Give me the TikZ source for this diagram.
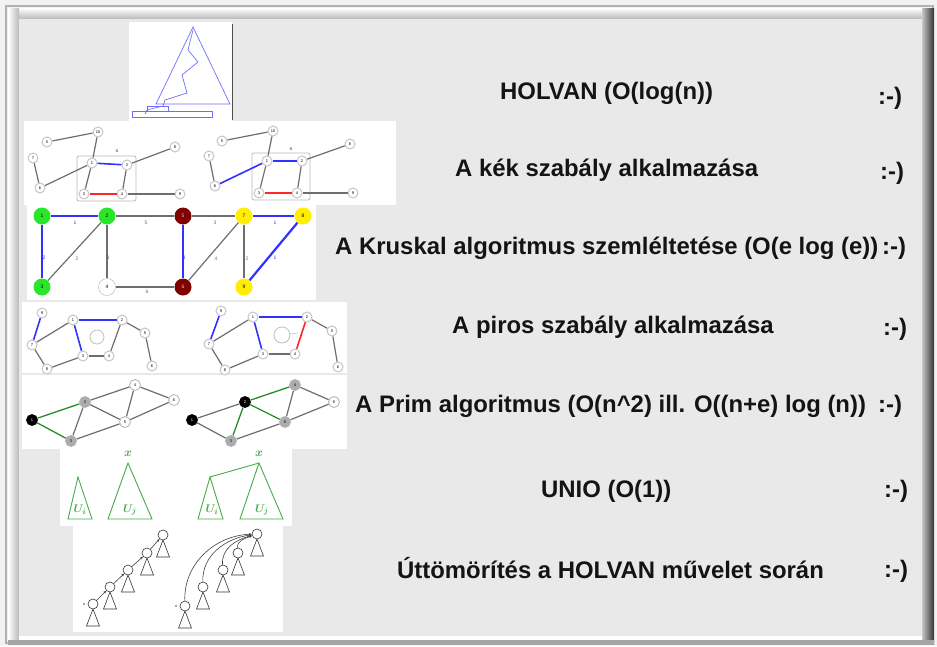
\documentclass[tikz,border=0pt]{standalone}
\usepackage{fontspec}
\setmainfont{Liberation Sans}
\usepackage{amsmath,bm}
\usetikzlibrary{arrows.meta}
\definecolor{panel}{RGB}{233,233,233}
\definecolor{cbg}{RGB}{242,242,242}
\definecolor{txt}{RGB}{20,20,20}
\definecolor{kgreen}{RGB}{40,230,40}
\definecolor{kyellow}{RGB}{255,238,0}
\definecolor{kred}{RGB}{128,0,0}
\definecolor{eblue}{RGB}{50,50,255}
\definecolor{egray}{RGB}{110,110,110}
\definecolor{pgreen}{RGB}{40,140,40}
\definecolor{ugreen}{RGB}{70,170,70}
\definecolor{hblue}{RGB}{110,110,255}
\begin{document}
\begin{tikzpicture}[x=1pt,y=-1pt,
  lbl/.style={anchor=west,text=txt,font=\fontsize{23.9}{26}\bfseries\selectfont,inner sep=0pt},
  thumb/.style={fill=white},
  gn/.style={circle,draw=gray!45,fill=white,line width=1pt,inner sep=0pt,minimum size=10pt,font=\fontsize{4}{4}\selectfont},
  ge/.style={draw=egray,line width=1.2pt},
  be/.style={draw=eblue,line width=1.6pt},
  re/.style={draw=red!85,line width=1.6pt},
  ge2/.style={draw=pgreen,line width=1.3pt},
  kn/.style={circle,inner sep=0pt,minimum size=17pt,font=\fontsize{5}{5}\selectfont},
  kl/.style={font=\fontsize{5}{5}\selectfont,text=egray},
  kbl/.style={font=\fontsize{5}{5}\selectfont,text=eblue},
  pn/.style={circle,draw=gray!60,line width=0.8pt,inner sep=0pt,minimum size=11pt,font=\fontsize{4}{4}\selectfont},
  cn/.style={circle,draw=black!80,fill=white,line width=0.6pt,inner sep=0pt,minimum size=10pt},
  arr/.style={draw=black!75,line width=0.6pt,-{Stealth[length=3pt,width=2.5pt]}},
  subtree/.pic={\draw[black!80,line width=0.6pt] (0,5) -- (-6.5,22) -- (6.5,22) -- cycle;},
  ut/.style={draw=ugreen,line width=0.9pt},
  ul/.style={text=ugreen,font=\fontsize{11}{11}\selectfont}
]
% ---------- frame ----------
\fill[cbg] (0,0) rectangle (937,646);
\draw[gray!60,line width=1.5pt] (6,6) rectangle (933,643);
\shade[top color=white,bottom color=gray!55] (8,8) rectangle (930,19);
\shade[left color=white,right color=gray!55] (8,8) rectangle (19,640);
\shade[left color=gray!45,right color=black!80] (922,8) rectangle (934,644);
\fill[gray!70] (8,640) rectangle (934,645);
\fill[white] (19,636) rectangle (922,640);
\fill[panel] (19,19) rectangle (922,636);

% ---------- thumbnails backgrounds ----------
\fill[thumb] (129,22) rectangle (232,121);
\draw[black!70,line width=0.8pt] (232,24) -- (232,120);
\fill[thumb] (24,121) rectangle (396,205);
\fill[thumb] (27,203) rectangle (316,300);
\fill[thumb] (22,302) rectangle (347,373);
\fill[thumb] (22,375) rectangle (347,449);
\fill[thumb] (60,449) rectangle (292,526);
\fill[thumb] (73,523) rectangle (283,632);

% ---------- HOLVAN thumbnail ----------
\draw[hblue,line width=0.7pt] (193,27) -- (156,104) -- (230,104) -- cycle;
\draw[hblue,line width=0.7pt] (193,30) -- (188,50) -- (198,62) -- (182,75) -- (187,93) -- (165,100) -- (163,106) -- (147,110) -- (145,114);
\draw[hblue,line width=0.7pt] (132,111) rectangle (212,117);
\draw[hblue,line width=0.7pt] (147,106) rectangle (168,111);

% ---------- blue rule, left ----------
\draw[gray!55,line width=0.8pt,rounded corners=2pt] (77,156) rectangle (136,201);
\node[font=\fontsize{4}{4}\selectfont] at (117,151) {X};
\node[gn] (a10) at (98,132) {10};
\node[gn] (a5) at (47,142) {5};
\node[gn] (a7) at (33,158) {7};
\node[gn] (a6) at (40,188) {6};
\node[gn] (a1) at (92,163) {1};
\node[gn] (a2) at (127,165) {2};
\node[gn] (a8) at (175,147) {8};
\node[gn] (a3) at (84,194) {3};
\node[gn] (a4) at (122,194) {4};
\node[gn] (a9) at (180,194) {9};
\draw[ge] (a5) -- (a10);
\draw[ge] (a10) -- (a1);
\draw[ge] (a7) -- (a6);
\draw[ge] (a6) -- (a1);
\draw[be] (a1) -- (a2);
\draw[ge] (a2) -- (a8);
\draw[ge] (a1) -- (a3);
\draw[ge] (a2) -- (a4);
\draw[re] (a3) -- (a4);
\draw[ge] (a4) -- (a9);

% ---------- blue rule, right ----------
\draw[gray!55,line width=0.8pt,rounded corners=2pt] (252,153) rectangle (310,200);
\node[font=\fontsize{4}{4}\selectfont] at (291,149) {X};
\node[gn] (b10) at (273,131) {10};
\node[gn] (b5) at (222,141) {5};
\node[gn] (b7) at (209,156) {7};
\node[gn] (b6) at (215,186) {6};
\node[gn] (b1) at (267,161) {1};
\node[gn] (b2) at (302,161) {2};
\node[gn] (b8) at (350,144) {8};
\node[gn] (b3) at (259,193) {3};
\node[gn] (b4) at (297,193) {4};
\node[gn] (b9) at (353,193) {9};
\draw[ge] (b5) -- (b10);
\draw[ge] (b10) -- (b1);
\draw[ge] (b7) -- (b6);
\draw[be] (b6) -- (b1);
\draw[be] (b1) -- (b2);
\draw[ge] (b2) -- (b8);
\draw[ge] (b1) -- (b3);
\draw[ge] (b2) -- (b4);
\draw[re] (b3) -- (b4);
\draw[ge] (b4) -- (b9);

% ---------- Kruskal ----------
\node[kn,fill=kgreen] (k1) at (42,216) {1};
\node[kn,fill=kgreen] (k2) at (107,216) {2};
\node[kn,fill=kred,text=white!80!black] (k5) at (183,216) {5};
\node[kn,fill=kyellow] (k7) at (244,216) {7};
\node[kn,fill=kyellow] (k8) at (303,216) {8};
\node[kn,fill=kgreen] (k3) at (42,287) {3};
\node[kn,fill=white,draw=gray!60] (k4) at (107,287) {4};
\node[kn,fill=kred,text=white!80!black] (k6) at (183,287) {6};
\node[kn,fill=kyellow] (k9) at (244,287) {9};
\draw[be,line width=1.4pt] (k1) -- (k2);
\draw[ge] (k2) -- (k5);
\draw[ge] (k5) -- (k7);
\draw[be,line width=1.4pt] (k7) -- (k8);
\draw[be,line width=1.4pt] (k1) -- (k3);
\draw[ge] (k3) -- (k2);
\draw[ge] (k2) -- (k4);
\draw[ge] (k4) -- (k6);
\draw[be,line width=2.2pt] (k5) -- (k6);
\draw[ge] (k6) -- (k7);
\draw[ge] (k7) -- (k9);
\draw[be,line width=2.2pt] (k8) -- (k9);
\node[kbl] at (75,223) {1};
\node[kl] at (146,223) {5};
\node[kl] at (215,223) {3};
\node[kbl] at (275,223) {1};
\node[kbl] at (44,258) {2};
\node[kl] at (77,259) {2};
\node[kl] at (108,258) {3};
\node[kl] at (147,292) {6};
\node[kbl] at (184,258) {3};
\node[kl] at (216,259) {4};
\node[kl] at (247,259) {2};
\node[kbl] at (275,258) {1};

% ---------- red rule, left ----------
\draw[gray!50,line width=0.8pt] (97,337) circle (7);
\node[gn] (r9) at (42,313) {9};
\node[gn] (r7) at (32,345) {7};
\node[gn] (r1) at (73,320) {1};
\node[gn] (r2) at (122,320) {2};
\node[gn] (r5) at (145,333) {5};
\node[gn] (r3) at (83,356) {3};
\node[gn] (r4) at (109,356) {4};
\node[gn] (r8) at (47,369) {8};
\node[gn] (r6) at (152,366) {6};
\draw[be] (r9) -- (r7);
\draw[ge] (r7) -- (r1);
\draw[ge] (r7) -- (r8);
\draw[be] (r1) -- (r2);
\draw[be] (r1) -- (r3);
\draw[ge] (r2) -- (r5);
\draw[ge] (r2) -- (r4);
\draw[ge] (r3) -- (r4);
\draw[ge] (r8) -- (r3);
\draw[ge] (r5) -- (r6);

% ---------- red rule, right ----------
\draw[gray!50,line width=0.8pt] (282,335) circle (8);
\draw[gray!50,line width=0.6pt] (290,334) -- (298,333);
\node[gn] (s9) at (221,311) {9};
\node[gn] (s7) at (209,344) {7};
\node[gn] (s1) at (253,317) {1};
\node[gn] (s2) at (307,317) {2};
\node[gn] (s5) at (332,331) {5};
\node[gn] (s3) at (263,354) {3};
\node[gn] (s4) at (295,354) {4};
\node[gn] (s8) at (225,370) {8};
\node[gn] (s6) at (338,367) {6};
\draw[be] (s9) -- (s7);
\draw[ge] (s7) -- (s1);
\draw[ge] (s7) -- (s8);
\draw[be] (s1) -- (s2);
\draw[be] (s1) -- (s3);
\draw[ge] (s2) -- (s5);
\draw[re] (s2) -- (s4);
\draw[ge] (s3) -- (s4);
\draw[ge] (s8) -- (s3);
\draw[ge] (s5) -- (s6);

% ---------- Prim, left ----------
\node[pn,fill=black,draw=black,text=white] (p1) at (32,420) {1};
\node[pn,fill=gray!65] (p2) at (85,402) {2};
\node[pn,fill=gray!65] (p3) at (71,441) {3};
\node[pn,fill=white] (p4) at (135,385) {4};
\node[pn,fill=white] (p5) at (125,422) {5};
\node[pn,fill=white] (p6) at (174,400) {6};
\draw[ge2] (p1) -- (p2);
\draw[ge2] (p1) -- (p3);
\draw[ge] (p2) -- (p3);
\draw[ge] (p2) -- (p4);
\draw[ge] (p2) -- (p5);
\draw[ge] (p4) -- (p5);
\draw[ge] (p4) -- (p6);
\draw[ge] (p3) -- (p5);
\draw[ge] (p5) -- (p6);

% ---------- Prim, right ----------
\node[pn,fill=black,draw=black,text=white] (m1) at (192,420) {1};
\node[pn,fill=black,draw=black,text=white] (m2) at (245,402) {2};
\node[pn,fill=gray!65] (m3) at (231,441) {3};
\node[pn,fill=gray!65] (m4) at (295,385) {4};
\node[pn,fill=gray!65] (m5) at (285,422) {5};
\node[pn,fill=white] (m6) at (334,402) {6};
\draw[ge] (m1) -- (m2);
\draw[ge] (m1) -- (m3);
\draw[ge2] (m2) -- (m3);
\draw[ge2] (m2) -- (m4);
\draw[ge2] (m2) -- (m5);
\draw[ge] (m4) -- (m5);
\draw[ge] (m4) -- (m6);
\draw[ge] (m3) -- (m5);
\draw[ge] (m5) -- (m6);

% ---------- UNIO ----------
\draw[ut] (78,477) -- (68,519) -- (92,519) -- cycle;
\draw[ut] (128,463) -- (108,519) -- (152,519) -- cycle;
\node[ul] at (80,510) {$\bm{U_i}$};
\node[ul] at (130,510) {$\bm{U_j}$};
\node[ul,font=\fontsize{13}{13}\selectfont] (x1) at (128,454) {$\bm{x}$};
\draw[ut] (210,477) -- (198,519) -- (223,519) -- cycle;
\draw[ut] (259,463) -- (240,519) -- (283,519) -- cycle;
\draw[ut] (210,477) -- (259,463);
\node[ul] at (212,510) {$\bm{U_i}$};
\node[ul] at (262,510) {$\bm{U_j}$};
\node[ul,font=\fontsize{13}{13}\selectfont] (x2) at (259,454) {$\bm{x}$};

% ---------- path compression ----------
\foreach \px/\py in {163/535,147/553,128/570,110/587,93/604,257/534,238/553,223/570,203/587,185/606}
  \pic at (\px,\py) {subtree};
\node[cn] (c1) at (163,535) {};
\node[cn] (c2) at (147,553) {};
\node[cn] (c3) at (128,570) {};
\node[cn] (c4) at (110,587) {};
\node[cn] (c5) at (93,604) {};
\draw[arr] (c2) -- (c1);
\draw[arr] (c3) -- (c2);
\draw[arr] (c4) -- (c3);
\draw[arr] (c5) -- (c4);
\node[font=\fontsize{4}{4}\selectfont] at (84,604) {x};
\node[cn] (d1) at (257,534) {};
\node[cn] (d2) at (238,553) {};
\node[cn] (d3) at (223,570) {};
\node[cn] (d4) at (203,587) {};
\node[cn] (d5) at (185,606) {};
\draw[arr] (d2) to[out=95,in=200] (d1);
\draw[arr] (d3) to[out=95,in=195] (d1);
\draw[arr] (d4) to[out=92,in=188] (d1);
\draw[arr] (d5) to[out=92,in=182] (d1);
\node[font=\fontsize{4}{4}\selectfont] at (176,606) {x};

% ---------- texts ----------
\node[lbl] (t1) at (500,93) {HOLVAN (O(log(n))};
\node[lbl] (s1t) at (878,98) {:-)};
\node[lbl] (t2) at (455,170) {A kék szabály alkalmazása};
\node[lbl] (s2t) at (880,173) {:-)};
\node[lbl] (t3) at (335,248) {A Kruskal algoritmus szemléltetése (O(e log (e))};
\node[lbl] (s3t) at (882,248) {:-)};
\node[lbl] (t4) at (452,327) {A piros szabály alkalmazása};
\node[lbl] (s4t) at (883,329) {:-)};
\node[lbl] (t5) at (355,406) {A Prim algoritmus (O(n\^{}2) ill. O((n+e) log (n))};
\node[lbl] (s5t) at (878,406) {:-)};
\node[lbl] (t6) at (541,491) {UNIO (O(1))};
\node[lbl] (s6t) at (884,491) {:-)};
\node[lbl] (t7) at (397,568) {Úttömörítés a HOLVAN művelet során};
\node[lbl] (s7t) at (884,571) {:-)};
\end{tikzpicture}
\end{document}
